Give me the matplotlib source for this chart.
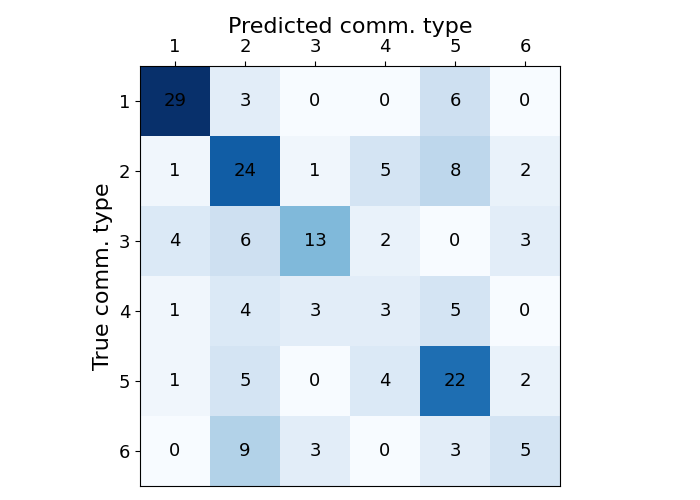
import numpy as np
import matplotlib
matplotlib.use('Agg')
import matplotlib.pyplot as plt

# 類別與混淆矩陣
labels = ['1', '2', '3', '4', '5', '6']
cm = np.array([[29, 3, 0, 0, 6, 0],
               [1, 24, 1, 5, 8, 2],
               [4, 6, 13, 2, 0, 3],
               [1, 4, 3, 3, 5, 0],
               [1, 5, 0, 4, 22, 2],
               [0, 9, 3, 0, 3, 5]])

fig = plt.figure(figsize=(7, 5), dpi=100)
ax = fig.add_axes([0.2, 0.028, 0.6, 0.84])
ax.imshow(cm, cmap='Blues', interpolation='nearest')

for i in range(cm.shape[0]):
    for j in range(cm.shape[1]):
        ax.text(j, i, str(cm[i, j]), ha='center', va='center', fontsize=13, color='black')

ax.set_xticks(range(len(labels)))
ax.set_yticks(range(len(labels)))
ax.set_xticklabels(labels, fontsize=13)
ax.set_yticklabels(labels, fontsize=13)
ax.xaxis.tick_top()
ax.xaxis.set_label_position('top')
ax.set_xlabel('Predicted comm. type', fontsize=16)
ax.set_ylabel('True comm. type', fontsize=16)

plt.savefig('out.png')
